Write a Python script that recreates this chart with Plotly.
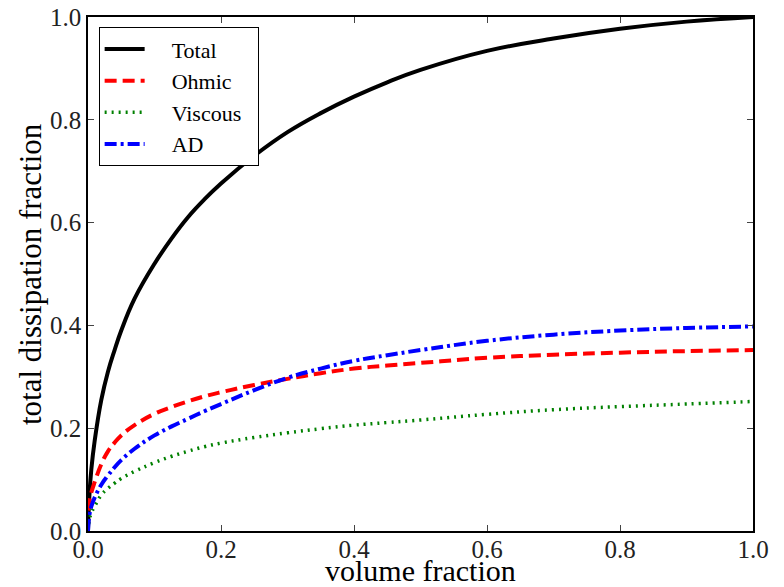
import plotly.graph_objects as go

# Cumulative dissipation fractions versus volume fraction
volume_fraction = [0, 0.002, 0.005, 0.01, 0.02, 0.03, 0.04, 0.05, 0.07, 0.1, 0.125, 0.15,
                   0.175, 0.2, 0.25, 0.3, 0.35, 0.4, 0.45, 0.5, 0.6, 0.7, 0.8, 0.9, 1.0]
total = [0, 0.067, 0.12, 0.175, 0.255, 0.31, 0.352, 0.39, 0.452, 0.52, 0.568, 0.61,
         0.645, 0.676, 0.73, 0.776, 0.813, 0.845, 0.873, 0.897, 0.934, 0.958, 0.977, 0.991, 1.0]
ohmic = [0.04, 0.058, 0.075, 0.095, 0.13, 0.155, 0.172, 0.186, 0.206, 0.228, 0.241, 0.252,
         0.262, 0.27, 0.284, 0.296, 0.307, 0.316, 0.322, 0.327, 0.337, 0.343, 0.347, 0.35, 0.352]
viscous = [0, 0.022, 0.035, 0.048, 0.07, 0.083, 0.093, 0.102, 0.116, 0.133, 0.145, 0.155,
           0.164, 0.171, 0.182, 0.191, 0.199, 0.206, 0.211, 0.216, 0.227, 0.236, 0.242, 0.247, 0.252]
ad = [0, 0.03, 0.048, 0.065, 0.09, 0.108, 0.124, 0.138, 0.16, 0.186, 0.203, 0.218,
      0.233, 0.247, 0.274, 0.298, 0.316, 0.331, 0.342, 0.352, 0.37, 0.382, 0.39, 0.395, 0.398]

tick_values = [0.0, 0.2, 0.4, 0.6, 0.8, 1.0]
tick_labels = ["0.0", "0.2", "0.4", "0.6", "0.8", "1.0"]

FONT = "Liberation Serif"
PAD = "\u2002\u2002"  # room between legend sample and label
TAIL = "\u2002"

series = [
    ("Total", total, dict(color="black", width=4)),
    ("Ohmic", ohmic, dict(color="#ff0000", width=4, dash="12px,6px")),
    ("Viscous", viscous, dict(color="#008000", width=3.5, dash="2px,5px")),
    ("AD", ad, dict(color="#0000ff", width=4, dash="12px,4px,3px,4px")),
]

fig = go.Figure()
for name, values, style in series:
    fig.add_trace(go.Scatter(
        x=volume_fraction, y=values, name=PAD + name + TAIL, mode="lines",
        line=dict(shape="spline", smoothing=1.2, **style),
    ))

axis_common = dict(
    range=[0, 1],
    tickvals=tick_values,
    ticktext=tick_labels,
    ticks="inside",
    ticklen=6,
    tickwidth=1,
    tickcolor="#444",
    showline=True,
    linecolor="black",
    linewidth=1.5,
    mirror="ticks",
    showgrid=False,
    zeroline=False,
    automargin=False,
    tickfont=dict(family=FONT, size=25, color="#222"),
)

fig.update_layout(
    width=784,
    height=587,
    autosize=False,
    margin=dict(l=88, r=31, t=17, b=56),
    paper_bgcolor="white",
    plot_bgcolor="white",
    font=dict(family=FONT, color="black"),
    xaxis=dict(**axis_common, ticklabelstandoff=-5),
    yaxis=dict(**axis_common),
    legend=dict(
        x=0.016, y=0.98, xanchor="left", yanchor="top",
        bgcolor="white", bordercolor="black", borderwidth=1,
        font=dict(family=FONT, size=22, color="black"),
        itemwidth=40, tracegroupgap=0,
    ),
    showlegend=True,
    annotations=[
        dict(text="volume fraction", xref="paper", yref="paper", x=0.5, y=0,
             xanchor="center", yanchor="middle", yshift=-39, showarrow=False,
             font=dict(family=FONT, size=30, color="black")),
        dict(text="total dissipation fraction", xref="paper", yref="paper", x=0, y=0.5,
             xanchor="center", yanchor="middle", xshift=-58, textangle=-90,
             showarrow=False, font=dict(family=FONT, size=31, color="black")),
    ],
)

fig.write_html("out.html")
